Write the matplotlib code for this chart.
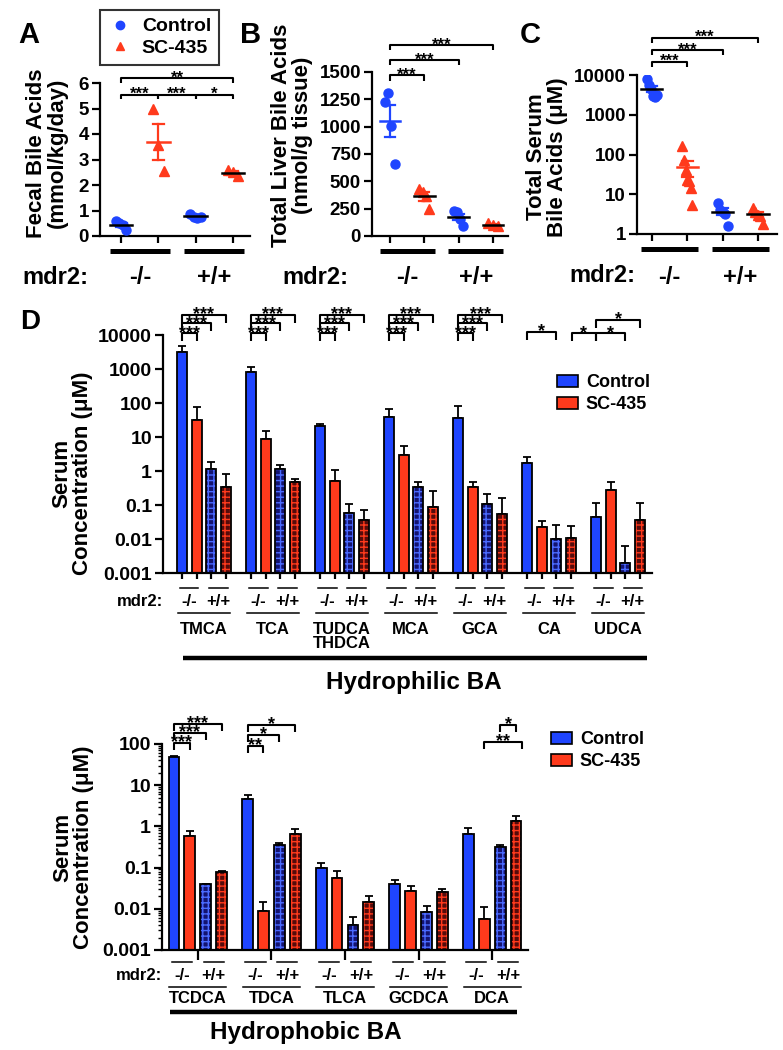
import numpy as np
import matplotlib
matplotlib.use("Agg")
import matplotlib.pyplot as plt
import matplotlib.transforms as mtransforms
from matplotlib.patches import Patch
from matplotlib.lines import Line2D
from matplotlib.ticker import LogLocator, NullFormatter

plt.rcParams['font.family'] = ['Liberation Sans', 'DejaVu Sans']
plt.rcParams['font.weight'] = 'bold'
plt.rcParams['axes.linewidth'] = 1.6
plt.rcParams['xtick.major.width'] = 1.6
plt.rcParams['ytick.major.width'] = 1.6
plt.rcParams['ytick.minor.width'] = 1.0
plt.rcParams['hatch.linewidth'] = 1.0

# ---- panel A-C: individual animals (mdr2 -/- ctrl, -/- SC-435, +/+ ctrl, +/+ SC-435)
fecal = [[0.58, 0.5, 0.43, 0.25], [5.0, 3.55, 2.53], [0.85, 0.75, 0.72, 0.75], [2.6, 2.5, 2.35]]
liver = [[1226, 1308, 1004, 654], [430, 400, 370, 250], [225, 215, 160, 95], [115, 100, 95]]
serum_total = [[8000, 5500, 4500, 3000, 2800, 3200], [168, 71, 40, 23, 21, 14, 5.5],
               [6.0, 4.0, 3.6, 3.2, 1.6], [4.5, 3.5, 3.0, 2.8, 1.8]]

# ---- panel D: mean and SEM, order per acid = ctrl -/-, SC -/-, ctrl +/+, SC +/+
philic_names = ['TMCA', 'TCA', 'TUDCA\nTHDCA', 'MCA', 'GCA', 'CA', 'UDCA']
philic_mean = [[3100, 32, 1.16, 0.33], [820, 8.6, 1.13, 0.46], [21.7, 0.52, 0.057, 0.037],
               [40, 2.9, 0.33, 0.086], [37, 0.34, 0.108, 0.056], [1.73, 0.022, 0.0102, 0.011],
               [0.045, 0.28, 0.002, 0.036]]
philic_sem = [[1700, 43, 0.74, 0.47], [300, 6.4, 0.37, 0.13], [1.8, 0.56, 0.049, 0.032],
              [27, 2.4, 0.13, 0.17], [46, 0.15, 0.10, 0.11], [0.93, 0.013, 0.016, 0.013],
              [0.068, 0.20, 0.0043, 0.077]]

phobic_names = ['TCDCA', 'TDCA', 'TLCA', 'GCDCA', 'DCA']
phobic_mean = [[48, 0.59, 0.040, 0.079], [4.6, 0.0087, 0.35, 0.66], [0.097, 0.055, 0.0041, 0.0144],
               [0.041, 0.027, 0.0083, 0.026], [0.66, 0.0057, 0.31, 1.34]]
phobic_sem = [[2, 0.19, 0.001, 0.004], [1.3, 0.0057, 0.04, 0.21], [0.033, 0.028, 0.0022, 0.0066],
              [0.009, 0.008, 0.0035, 0.005], [0.28, 0.0056, 0.05, 0.40]]

genotypes = ['-/-', '+/+']
treatments = ['Control', 'SC-435']

BLUE = '#1f45ff'
RED = '#ff3a1c'
NAVY = '#131370'
DKRED = '#550b0b'

W, H = 783, 1050
fig = plt.figure(figsize=(W / 100, H / 100), dpi=100)


def add_ax(box):
    l, t, r, b = box
    return fig.add_axes([l / W, 1 - b / H, (r - l) / W, (b - t) / H])


def yfrac(box, ypx):
    return (box[3] - ypx) / (box[3] - box[1])


def bracket(ax, x1, x2, y, ybot, label, trans=None, fs=12):
    trans = trans or ax.transData
    ax.plot([x1, x1, x2, x2], [ybot, y, y, ybot], color='black', lw=1.5,
            transform=trans, clip_on=False, solid_capstyle='butt')
    ax.text((x1 + x2) / 2, y, label, ha='center', va='center', fontsize=fs,
            transform=trans, clip_on=False)


def scatter_panel(box, data, ylim, yticks, ylabels, log, brackets, mean_cols, xlim):
    ax = add_ax(box)
    for s in ['top', 'right']:
        ax.spines[s].set_visible(False)
    for i, vals in enumerate(data):
        vals = np.array(vals, dtype=float)
        n = len(vals)
        col = BLUE if i % 2 == 0 else RED
        mk = 'o' if i % 2 == 0 else '^'
        xs = i + np.linspace(-0.14, 0.14, n)
        ax.plot(xs, vals, ls='', marker=mk, color=col, ms=6.5, mec=col, zorder=3)
        m = vals.mean()
        sem = vals.std(ddof=1) / np.sqrt(n)
        ax.plot([i, i], [m - sem, m + sem], color=col, lw=1.6, zorder=4)
        ax.plot([i - 0.15, i + 0.15], [m - sem, m - sem], color=col, lw=1.6, zorder=4)
        ax.plot([i - 0.15, i + 0.15], [m + sem, m + sem], color=col, lw=1.6, zorder=4)
        ax.plot([i - 0.3, i + 0.3], [m, m], color=mean_cols[i], lw=1.8, zorder=5)
    if log:
        ax.set_yscale('log')
        ax.yaxis.set_minor_locator(LogLocator(base=10, subs=np.arange(2, 10)))
        ax.yaxis.set_minor_formatter(NullFormatter())
        ax.tick_params(axis='y', which='minor', length=3)
    ax.set_ylim(ylim)
    ax.set_yticks(yticks)
    ax.set_yticklabels(ylabels)
    ax.set_xlim(xlim)
    ax.set_xticks([0, 1, 2, 3])
    ax.set_xticklabels([])
    ax.tick_params(axis='x', length=5)
    ax.tick_params(axis='y', which='major', length=6, labelsize=13.5, pad=2)
    for (a, b, y, yb, lab) in brackets:
        bracket(ax, a, b, y, yb, lab, fs=12)
    tr = mtransforms.blended_transform_factory(ax.transData, ax.transAxes)
    ybar = yfrac(box, box[3] + 15)
    ylab = yfrac(box, 277)
    for g, (a, b) in enumerate([(-0.3, 1.3), (1.7, 3.3)]):
        ax.plot([a, b], [ybar, ybar], color='black', lw=3.6, transform=tr, clip_on=False,
                solid_capstyle='butt')
        ax.text(2 * g + 0.5, ylab, genotypes[g], ha='center', va='center', fontsize=17,
                transform=tr)
    return ax


# ---------------- Panel A
boxA = (100, 83, 250, 236)
scatter_panel(boxA, fecal, (0, 6), range(7), [str(v) for v in range(7)], False,
              [(0, 1, 5.54, 5.36, '***'), (1, 2, 5.54, 5.36, '***'), (2, 3, 5.54, 5.36, '*'),
               (0, 3, 6.2, 6.0, '**')],
              ['black', RED, 'black', 'black'], (-0.57, 3.46))
fig.text(18 / W, 1 - 35 / H, 'A', fontsize=21, ha='left', va='center')
fig.text(47 / W, 1 - 153 / H, 'Fecal Bile Acids\n(mmol/kg/day)', rotation=90, fontsize=16,
         ha='center', va='center', multialignment='center', linespacing=1.0)
fig.text(88 / W, 1 - 277 / H, 'mdr2:', fontsize=17, ha='right', va='center')
legA = fig.legend(handles=[Line2D([], [], ls='', marker='o', color=BLUE, ms=6),
                           Line2D([], [], ls='', marker='^', color=RED, ms=6)],
                  labels=treatments, loc='upper left', bbox_to_anchor=(100 / W, 1 - 10 / H),
                  frameon=True, fancybox=False, edgecolor='black', fontsize=14,
                  handlelength=1.3, handletextpad=0.45, borderpad=0.4, labelspacing=0.2,
                  borderaxespad=0)
legA.get_frame().set_linewidth(1.5)

# ---------------- Panel B
boxB = (372, 72, 508, 236)
scatter_panel(boxB, liver, (0, 1500), [0, 250, 500, 750, 1000, 1250, 1500],
              ['0', '250', '500', '750', '1000', '1250', '1500'], False,
              [(0, 1, 1469, 1420, '***'), (0, 2, 1606, 1560, '***'), (0, 3, 1749, 1700, '***')],
              [BLUE, 'black', 'black', 'black'], (-0.52, 3.44))
fig.text(240 / W, 1 - 35 / H, 'B', fontsize=21, ha='left', va='center')
fig.text(292 / W, 1 - 135 / H, 'Total Liver Bile Acids\n(nmol/g tissue)', rotation=90,
         fontsize=16, ha='center', va='center', multialignment='center', linespacing=1.0)
fig.text(348 / W, 1 - 277 / H, 'mdr2:', fontsize=17, ha='right', va='center')

# ---------------- Panel C
boxC = (637, 75, 777, 234)
lv = [10 ** 4.335, 10 ** 4.63, 10 ** 4.94]
scatter_panel(boxC, serum_total, (1, 10000), [1, 10, 100, 1000, 10000],
              ['1', '10', '100', '1000', '10000'], True,
              [(0, 1, lv[0], lv[0] / 10 ** 0.13, '***'), (0, 2, lv[1], lv[1] / 10 ** 0.13, '***'),
               (0, 3, lv[2], lv[2] / 10 ** 0.13, '***')],
              ['black', RED, 'black', 'black'], (-0.42, 3.54))
fig.text(520 / W, 1 - 35 / H, 'C', fontsize=21, ha='left', va='center')
fig.text(547 / W, 1 - 157 / H, 'Total Serum\nBile Acids (\u03bcM)', rotation=90, fontsize=16,
         ha='center', va='center', multialignment='center', linespacing=1.0)
fig.text(635 / W, 1 - 275 / H, 'mdr2:', fontsize=17, ha='right', va='center')


# ---------------- Panel D
def bar_panel(box, names, means, sems, gstep, ylim, xlim, brackets, pos, leg_xy, title,
              title_x, thick, tick_each_bar):
    ax = add_ax(box)
    for s in ['top', 'right']:
        ax.spines[s].set_visible(False)
    ax.set_yscale('log')
    means = np.array(means)
    sems = np.array(sems)
    centers = np.arange(len(names)) * gstep
    offs = np.array([-1.5, -0.5, 0.5, 1.5])
    base = ylim[0]
    faces = [BLUE, RED, NAVY, DKRED]
    hatch_cols = [None, None, '#4a6bff', '#ff3a1c']
    for k in range(4):
        xs = centers + offs[k]
        h = means[:, k] - base
        if hatch_cols[k] is None:
            ax.bar(xs, h, bottom=base, width=0.68, color=faces[k], edgecolor='black', lw=1.3,
                   zorder=2)
        else:
            ax.bar(xs, h, bottom=base, width=0.68, color=faces[k], edgecolor=hatch_cols[k],
                   hatch='+++', lw=0, zorder=2)
            ax.bar(xs, h, bottom=base, width=0.68, fill=False, edgecolor='black', lw=1.3,
                   zorder=3)
        ax.errorbar(xs, means[:, k], yerr=[np.zeros(len(xs)), sems[:, k]], fmt='none',
                    ecolor='black', elinewidth=1.3, capsize=2.8, capthick=1.3, zorder=1)
    ax.set_ylim(ylim)
    dec = np.arange(int(np.log10(ylim[0])), int(np.log10(ylim[1])) + 1)
    ax.set_yticks([10.0 ** d for d in dec])
    ax.set_yticklabels([('%g' % (10.0 ** d)) if d < 0 else str(int(10 ** d)) for d in dec])
    ax.yaxis.set_minor_locator(LogLocator(base=10, subs=np.arange(2, 10)))
    ax.yaxis.set_minor_formatter(NullFormatter())
    ax.tick_params(axis='y', which='minor', length=3)
    ax.tick_params(axis='y', which='major', length=6, labelsize=14, pad=2)
    ax.set_xlim(xlim)
    if tick_each_bar:
        ax.set_xticks((centers[:, None] + offs[None, :]).ravel())
        ax.tick_params(axis='x', length=4)
    else:
        ax.set_xticks(centers)
        ax.tick_params(axis='x', length=7)
    ax.set_xticklabels([])

    tr = mtransforms.blended_transform_factory(ax.transData, ax.transAxes)
    y_pair = yfrac(box, pos[0])
    y_gt = yfrac(box, pos[1])
    y_grp = yfrac(box, pos[2])
    y_name = yfrac(box, pos[3])
    y_thick = yfrac(box, pos[4])
    y_title = yfrac(box, pos[5])
    for c, name in zip(centers, names):
        for j, pc in enumerate([c - 1, c + 1]):
            ax.plot([pc - 0.63, pc + 0.63], [y_pair, y_pair], color='black', lw=1.1,
                    transform=tr, clip_on=False)
            ax.text(pc, y_gt, genotypes[j], ha='center', va='center', fontsize=12, transform=tr)
        ax.plot([c - 1.8, c + 1.8], [y_grp, y_grp], color='black', lw=1.1, transform=tr,
                clip_on=False)
        ax.text(c, y_name, name, ha='center', va='top', fontsize=12, transform=tr,
                linespacing=0.95)
    ax.plot(thick, [y_thick, y_thick], color='black', lw=3.2, transform=tr, clip_on=False,
            solid_capstyle='butt')
    ax.text(title_x, y_title, title, ha='center', va='center', fontsize=17.5, transform=tr)
    ax.text(0.0, y_gt, 'mdr2:', ha='right', va='center', fontsize=12, transform=ax.transAxes)

    for (g, k1, k2, lev, lab) in brackets:
        x1 = centers[g] + k1 - 1.5
        x2 = centers[g] + k2 - 1.5
        bracket(ax, x1, x2, lev, lev - 0.035, lab, trans=tr, fs=13)

    ax.legend(handles=[Patch(facecolor=BLUE, edgecolor='black', lw=1.2),
                       Patch(facecolor=RED, edgecolor='black', lw=1.2)],
              labels=treatments, loc='upper left', bbox_to_anchor=leg_xy,
              bbox_transform=fig.transFigure, frameon=False, fontsize=13,
              handlelength=1.15, handleheight=0.65, handletextpad=0.45, labelspacing=0.3,
              borderpad=0, borderaxespad=0)
    return ax


boxD1 = (163, 335, 652, 573)
three = lambda g: [(g, 0, 1, 1.008, '***'), (g, 0, 2, 1.05, '***'), (g, 0, 3, 1.084, '***')]
br_top = three(0) + three(1) + three(2) + three(3) + three(4) + \
    [(5, 0, 2, 1.013, '*'), (6, -1.7, 0, 1.008, '*'), (6, 0, 2, 1.008, '*'), (6, 0, 3, 1.063, '*')]
bar_panel(boxD1, philic_names, philic_mean, philic_sem, 4.75, (1e-3, 1e4), (-2.81, 30.83),
          br_top, (588, 602, 613, 622, 658, 682), (557 / W, 1 - 374 / H), 'Hydrophilic BA',
          14.45, [-1.44, 30.5], True)
fig.text(20 / W, 1 - 322 / H, 'D', fontsize=20, ha='left', va='center')
fig.text(72 / W, 1 - 473 / H, 'Serum\nConcentration (\u03bcM)', rotation=90, fontsize=16,
         ha='center', va='center', multialignment='center', linespacing=1.0)

boxD2 = (162, 744, 528, 950)
br_bot = [(0, 0, 1, 1.005, '***'), (0, 0, 2, 1.053, '***'), (0, 0, 3, 1.097, '***'),
          (1, 0, 1, 0.99, '**'), (1, 0, 2, 1.044, '*'), (1, 0, 3, 1.092, '*'),
          (4, 1, 3.4, 1.01, '**'), (4, 2, 3, 1.092, '*')]
bar_panel(boxD2, phobic_names, phobic_mean, phobic_sem, 4.625, (1e-3, 100), (-2.25, 20.75),
          br_bot, (962, 975, 987, 991, 1012, 1033), (551 / W, 1 - 731 / H), 'Hydrophobic BA',
          6.8, [-1.75, 20.06], False)
fig.text(73 / W, 1 - 847 / H, 'Serum\nConcentration (\u03bcM)', rotation=90, fontsize=16,
         ha='center', va='center', multialignment='center', linespacing=1.0)

fig.savefig('out.png', dpi=100)
